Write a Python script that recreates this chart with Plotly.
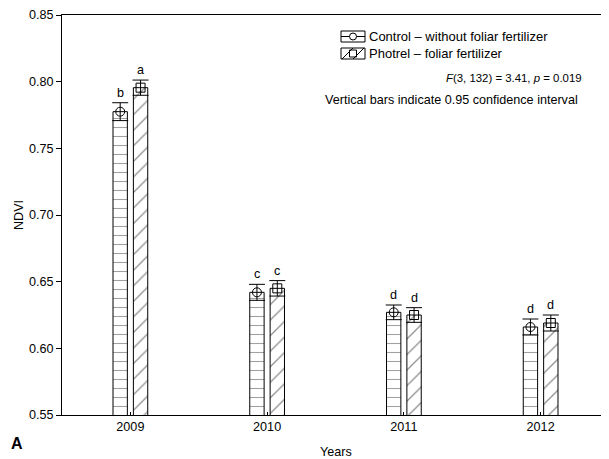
import numpy as np
import plotly.graph_objects as go

years = [2009, 2010, 2011, 2012]
control_mean = [0.7775, 0.642, 0.627, 0.616]
control_ci = [0.0067, 0.0060, 0.0055, 0.0060]
control_letters = ["b", "c", "d", "d"]
photrel_mean = [0.7955, 0.645, 0.625, 0.619]
photrel_ci = [0.0057, 0.0058, 0.0055, 0.0060]
photrel_letters = ["a", "c", "d", "d"]
series_names = ["Control – without foliar fertilizer", "Photrel – foliar fertilizer"]

FONT = "Arial, Liberation Sans, sans-serif"
FS = 12.6
W = 0.105
OFF_C = -0.127
OFF_P = 0.022
xc = np.array(years) + OFF_C + W / 2
xp = np.array(years) + OFF_P + W / 2

PX0, PY0, PW, PH = 62, 15, 547, 400


def px(x):
    return (x - PX0) / PW


def py(y):
    return 1 - (y - PY0) / PH


fig = go.Figure()
fig.add_trace(go.Bar(
    x=years, y=control_mean, width=W, offset=OFF_C, name=series_names[0], showlegend=False,
    marker=dict(color="white", line=dict(color="black", width=1),
                pattern=dict(shape="-", size=9, solidity=0.12, fgcolor="#444", bgcolor="white")),
))
fig.add_trace(go.Bar(
    x=years, y=photrel_mean, width=W, offset=OFF_P, name=series_names[1], showlegend=False,
    marker=dict(color="white", line=dict(color="black", width=1),
                pattern=dict(shape="/", size=11, solidity=0.12, fgcolor="#222", bgcolor="white")),
))
fig.add_trace(go.Scatter(
    x=xc, y=control_mean, mode="markers", showlegend=False,
    marker=dict(symbol="circle-open", size=9, color="black", line=dict(width=1)),
    error_y=dict(type="data", array=control_ci, color="black", thickness=1, width=8),
    hoverinfo="skip",
))
fig.add_trace(go.Scatter(
    x=xp, y=photrel_mean, mode="markers", showlegend=False,
    marker=dict(symbol="square-open", size=9, color="black", line=dict(width=1)),
    error_y=dict(type="data", array=photrel_ci, color="black", thickness=1, width=8),
    hoverinfo="skip",
))

ln = dict(color="black", width=1)
BX = 341
R1, R2 = 36.5, 53.5  # legend row centres (px)
shapes = [
    dict(type="rect", xref="paper", yref="paper", x0=px(BX), x1=px(BX + 24), y0=py(R1 + 5.5), y1=py(R1 - 5.5), line=ln),
    dict(type="line", xref="paper", yref="paper", x0=px(BX), x1=px(BX + 24), y0=py(R1), y1=py(R1), line=ln),
    dict(type="circle", xref="paper", yref="paper", x0=px(BX + 8.5), x1=px(BX + 15.5), y0=py(R1 + 3.5), y1=py(R1 - 3.5),
         line=ln, fillcolor="white"),
    dict(type="rect", xref="paper", yref="paper", x0=px(BX), x1=px(BX + 24), y0=py(R2 + 5.5), y1=py(R2 - 5.5), line=ln),
    dict(type="line", xref="paper", yref="paper", x0=px(BX + 1), x1=px(BX + 12), y0=py(R2 + 5.5), y1=py(R2 - 5.5), line=ln),
    dict(type="line", xref="paper", yref="paper", x0=px(BX + 12), x1=px(BX + 23), y0=py(R2 + 5.5), y1=py(R2 - 5.5), line=ln),
    dict(type="rect", xref="paper", yref="paper", x0=px(BX + 8.5), x1=px(BX + 15.5), y0=py(R2 + 3.5), y1=py(R2 - 3.5),
         line=ln, fillcolor="rgba(0,0,0,0)"),
]

annotations = [
    dict(text=series_names[0], xref="paper", yref="paper", x=px(BX + 26), y=py(R1),
         xanchor="left", yanchor="middle", showarrow=False, font=dict(size=13)),
    dict(text=series_names[1], xref="paper", yref="paper", x=px(BX + 26), y=py(R2),
         xanchor="left", yanchor="middle", showarrow=False, font=dict(size=13)),
    dict(text="<i>F</i>(3, 132) = 3.41, <i>p</i> = 0.019", xref="paper", yref="paper",
         x=px(584), y=py(78), xanchor="right", yanchor="middle", showarrow=False,
         font=dict(size=11.4)),
    dict(text="Vertical bars indicate 0.95 confidence interval", xref="paper", yref="paper",
         x=px(580), y=py(100), xanchor="right", yanchor="middle", showarrow=False,
         font=dict(size=FS)),
    dict(text="<b>A</b>", xref="paper", yref="paper", x=px(9), y=py(443),
         xanchor="left", yanchor="middle", showarrow=False, font=dict(size=16)),
    dict(text="Years", xref="paper", yref="paper", x=px(336), y=py(452),
         xanchor="center", yanchor="middle", showarrow=False, font=dict(size=FS)),
    dict(text="NDVI", xref="paper", yref="paper", x=px(19), y=py(215), textangle=-90,
         xanchor="center", yanchor="middle", showarrow=False, font=dict(size=FS)),
]
for xs, ms, cs, ls in [(xc, control_mean, control_ci, control_letters),
                       (xp, photrel_mean, photrel_ci, photrel_letters)]:
    for xv, mv, cv, lv in zip(xs, ms, cs, ls):
        annotations.append(dict(text=lv, x=xv, y=mv + cv, xref="x", yref="y",
                                xanchor="center", yanchor="bottom", yshift=1,
                                showarrow=False, font=dict(size=FS, color="black")))

fig.update_layout(
    width=601, height=451,
    margin=dict(l=54, r=0, t=7, b=44, autoexpand=False),
    paper_bgcolor="white", plot_bgcolor="white",
    font=dict(family=FONT, size=FS, color="black"),
    barmode="overlay",
    showlegend=False,
    shapes=shapes,
    annotations=annotations,
    xaxis=dict(range=[2008.5, 2012.5], tickvals=years, ticktext=[str(y) for y in years],
               showgrid=False, zeroline=False, showline=True, linecolor="black", linewidth=1,
               mirror=True, ticks="inside", ticklen=3, tickcolor="black", automargin=False),
    yaxis=dict(range=[0.55, 0.85], tickvals=[0.55, 0.60, 0.65, 0.70, 0.75, 0.80, 0.85],
               tickformat=".2f", showgrid=False, zeroline=False, showline=True,
               linecolor="black", linewidth=1, ticks="outside", ticklen=5, tickcolor="black",
               automargin=False),
)
fig.write_html("out.html")
